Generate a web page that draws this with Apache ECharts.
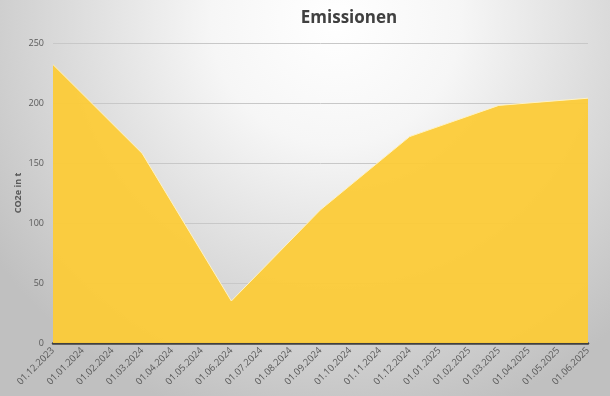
<!DOCTYPE html>
<html>
<head>
<meta charset="utf-8">
<script src="https://cdn.jsdelivr.net/npm/echarts@6/dist/echarts.min.js"></script>
<style>html,body{margin:0;padding:0;}#c{width:610px;height:396px;}</style>
</head>
<body>
<div id="c"></div>
<script>
const categories = ['01.12.2023','01.01.2024','01.02.2024','01.03.2024','01.04.2024','01.05.2024','01.06.2024','01.07.2024','01.08.2024','01.09.2024','01.10.2024','01.11.2024','01.12.2024','01.01.2025','01.02.2025','01.03.2025','01.04.2025','01.05.2025','01.06.2025'];
const emissions = [232, null, null, 158, null, null, 35, null, null, 111, null, null, 172, null, null, 198, null, null, 204];
const yTicks = [0, 50, 100, 150, 200, 250];

const chart = echarts.init(document.getElementById('c'));
chart.setOption({
  backgroundColor: {type:'radial', x:0.55, y:0.05, r:1.05, colorStops:[{offset:0,color:'#ffffff'},{offset:0.3,color:'#f6f6f6'},{offset:1,color:'#c0c0c0'}]},
  animation: false,
  title: {text:'Emissionen', left:344, top:5, textAlign:'center',
    textStyle:{fontFamily:'Open Sans', fontSize:17, fontWeight:'bold', color:'#404040'}},
  grid: {left:53, right:22, top:43, bottom:53},
  xAxis: {type:'category', data:categories, boundaryGap:false,
    axisLine:{lineStyle:{color:'#404040', width:2.5}},
    axisTick:{show:false},
    axisLabel:{rotate:45, interval:0, fontFamily:'Open Sans', fontSize:9.5, color:'#595959', margin:6},
    splitLine:{show:false}},
  yAxis: {type:'value', min:yTicks[0], max:yTicks[yTicks.length-1], interval:50,
    name:'CO2e in t', nameLocation:'middle', nameGap:30, nameRotate:90, nameMoveOverlap:false,
    nameTextStyle:{fontFamily:'Open Sans', fontSize:9, fontWeight:'bold', color:'#595959'},
    axisLine:{show:false}, axisTick:{show:false},
    axisLabel:{fontFamily:'Open Sans', fontSize:9, color:'#595959', margin:9},
    splitLine:{lineStyle:{color:'#c8c8c8', width:1}}},
  series: [{type:'line', data:emissions, connectNulls:true, symbol:'none',
    lineStyle:{color:'#fff3c4', width:1},
    areaStyle:{color:'#fccb38', opacity:0.95}, z:1}]
});
</script>
</body>
</html>
